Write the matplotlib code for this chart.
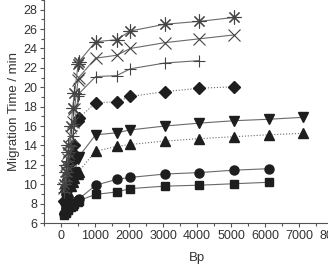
import matplotlib
matplotlib.use("Agg")
import matplotlib.pyplot as plt
from matplotlib.ticker import MultipleLocator

plt.rcParams['font.family'] = ['Liberation Sans', 'DejaVu Sans']

# DNA ladder sizes (bp)
bp = [75, 134, 154, 201, 220, 298, 344, 396, 506, 517,
      1018, 1636, 2036, 3054, 4072, 5090, 6108, 7126]

# migration times (min), one list per trace, bottom to top
t_square = [6.8, 7.0, 7.1, 7.3, 7.4, 7.6, 7.8, 8.0, 8.2, 8.3,
            8.95, 9.2, 9.55, 9.8, 9.9, 10.05, 10.2]
t_circle = [6.9, 7.1, 7.2, 7.4, 7.5, 7.8, 7.95, 8.1, 8.4, 8.45,
            9.9, 10.5, 10.7, 11.05, 11.2, 11.45, 11.6]
t_tri_up = [7.4, 8.1, 8.4, 8.9, 9.2, 9.8, 10.2, 10.6, 11.1, 11.3,
            13.4, 13.9, 14.1, 14.45, 14.7, 14.9, 15.1, 15.25]
t_tri_down = [7.8, 8.5, 8.8, 9.3, 9.6, 10.3, 10.8, 11.3, 12.6, 12.8,
              15.1, 15.3, 15.6, 16.0, 16.3, 16.55, 16.7, 16.9]
t_diamond = [8.3, 9.3, 9.7, 10.5, 11.0, 12.3, 13.2, 14.0, 16.5, 16.8,
             18.4, 18.5, 19.05, 19.55, 19.9, 20.05]
t_plus = [9.2, 10.3, 10.8, 11.8, 12.4, 13.9, 15.0, 16.2, 19.1, 19.3,
          21.1, 21.2, 21.9, 22.5, 22.75]
t_cross = [9.6, 10.8, 11.4, 12.6, 13.2, 15.0, 16.4, 17.8, 20.8, 21.0,
           23.0, 23.3, 24.0, 24.6, 25.0, 25.4]
t_star = [10.0, 11.3, 12.0, 13.3, 14.0, 16.0, 17.9, 19.4, 22.4, 22.6,
          24.7, 24.9, 25.8, 26.5, 26.8, 27.2]

fig = plt.figure(figsize=(3.28, 2.66), dpi=100)
ax = fig.add_axes([44 / 328, 43 / 266, 306 / 328, 223 / 266])

line_c = '#6a6a6a'
mark_c = '#1e1e1e'

traces = [
    (t_square, 's', '-', 6),
    (t_circle, 'o', '-', 6.5),
    (t_tri_up, '^', ':', 7),
    (t_tri_down, 'v', '-', 7),
    (t_diamond, 'D', ':', 6),
]
for t, m, ls, ms in traces:
    ax.plot(bp[:len(t)], t, linestyle=ls, color=line_c, lw=0.8,
            marker=m, ms=ms, mfc=mark_c, mec=mark_c)

ax.plot(bp[:len(t_plus)], t_plus, '-', color=line_c, lw=0.8,
        marker='+', ms=9, mec='#444444', mew=0.8)
ax.plot(bp[:len(t_cross)], t_cross, '-', color=line_c, lw=0.8,
        marker='x', ms=9, mec='#444444', mew=0.8)
ax.plot(bp[:len(t_star)], t_star, '-', color=line_c, lw=0.8,
        marker=(8, 2, 0), ms=10, mec='#444444', mew=0.8)

ax.set_xlim(-500, 8500)
ax.set_ylim(6, 29)
ax.xaxis.set_major_locator(MultipleLocator(1000))
ax.xaxis.set_minor_locator(MultipleLocator(500))
ax.yaxis.set_major_locator(MultipleLocator(2))
ax.yaxis.set_minor_locator(MultipleLocator(1))
ax.tick_params(which='both', direction='out', colors='#555555',
               labelcolor='#333333', labelsize=9, width=0.8)
ax.tick_params(which='major', length=3, pad=2)
ax.tick_params(which='minor', length=2)
for s in ['top', 'right']:
    ax.spines[s].set_visible(False)
for s in ['left', 'bottom']:
    ax.spines[s].set_color('#555555')
    ax.spines[s].set_linewidth(0.8)

ax.set_xlabel('Bp', fontsize=9.5, color='#333333', labelpad=7)
ax.set_ylabel('Migration Time / min', fontsize=9.5, color='#333333', labelpad=2)

fig.savefig('out.png', dpi=100)
